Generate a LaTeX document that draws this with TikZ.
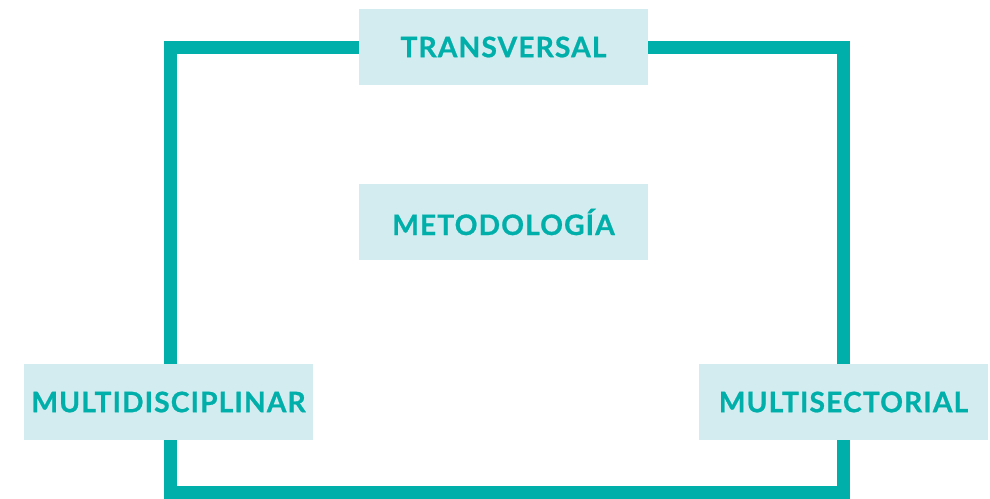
\documentclass[tikz,border=0pt]{standalone}
\usepackage{fontspec}
\setmainfont{Lato}
\newfontfamily\rotulo[LetterSpace=4,BoldFeatures={FakeBold=0.8}]{Lato}
\usetikzlibrary{backgrounds}
\definecolor{ejteal}{RGB}{0,175,170}
\definecolor{ejpale}{RGB}{211,236,239}

\begin{document}
\begin{tikzpicture}[x=1pt, y=-1pt,
  etiqueta/.style={fill=ejpale, minimum width=289pt, minimum height=76pt,
                   inner sep=0pt, text=ejteal, font=\rotulo\fontsize{28.2}{30}\selectfont\bfseries},
  marco/.style={draw=ejteal, line width=13pt}]
  \useasboundingbox (0,0) rectangle (990,498);

  % cajas
  \node[etiqueta] (trans) at (503.5,47) {TRANSVERSAL};
  \node[etiqueta] (metodo) at (503.5,222) {METODOLOGÍA};
  \node[etiqueta] (multidis) at (168.5,402) {MULTIDISCIPLINAR};
  \node[etiqueta] (multisec) at (843.5,402) {MULTISECTORIAL};
  \coordinate (abajo) at (503.5,492);

  % marco detras de las cajas
  \begin{pgfonlayer}{background}
    \draw[marco] ([xshift=1.5pt]multidis |- trans) -- (multisec |- trans)
      -- (multisec |- abajo) -- ([xshift=1.5pt]multidis |- abajo) -- cycle;
  \end{pgfonlayer}
\end{tikzpicture}
\end{document}
